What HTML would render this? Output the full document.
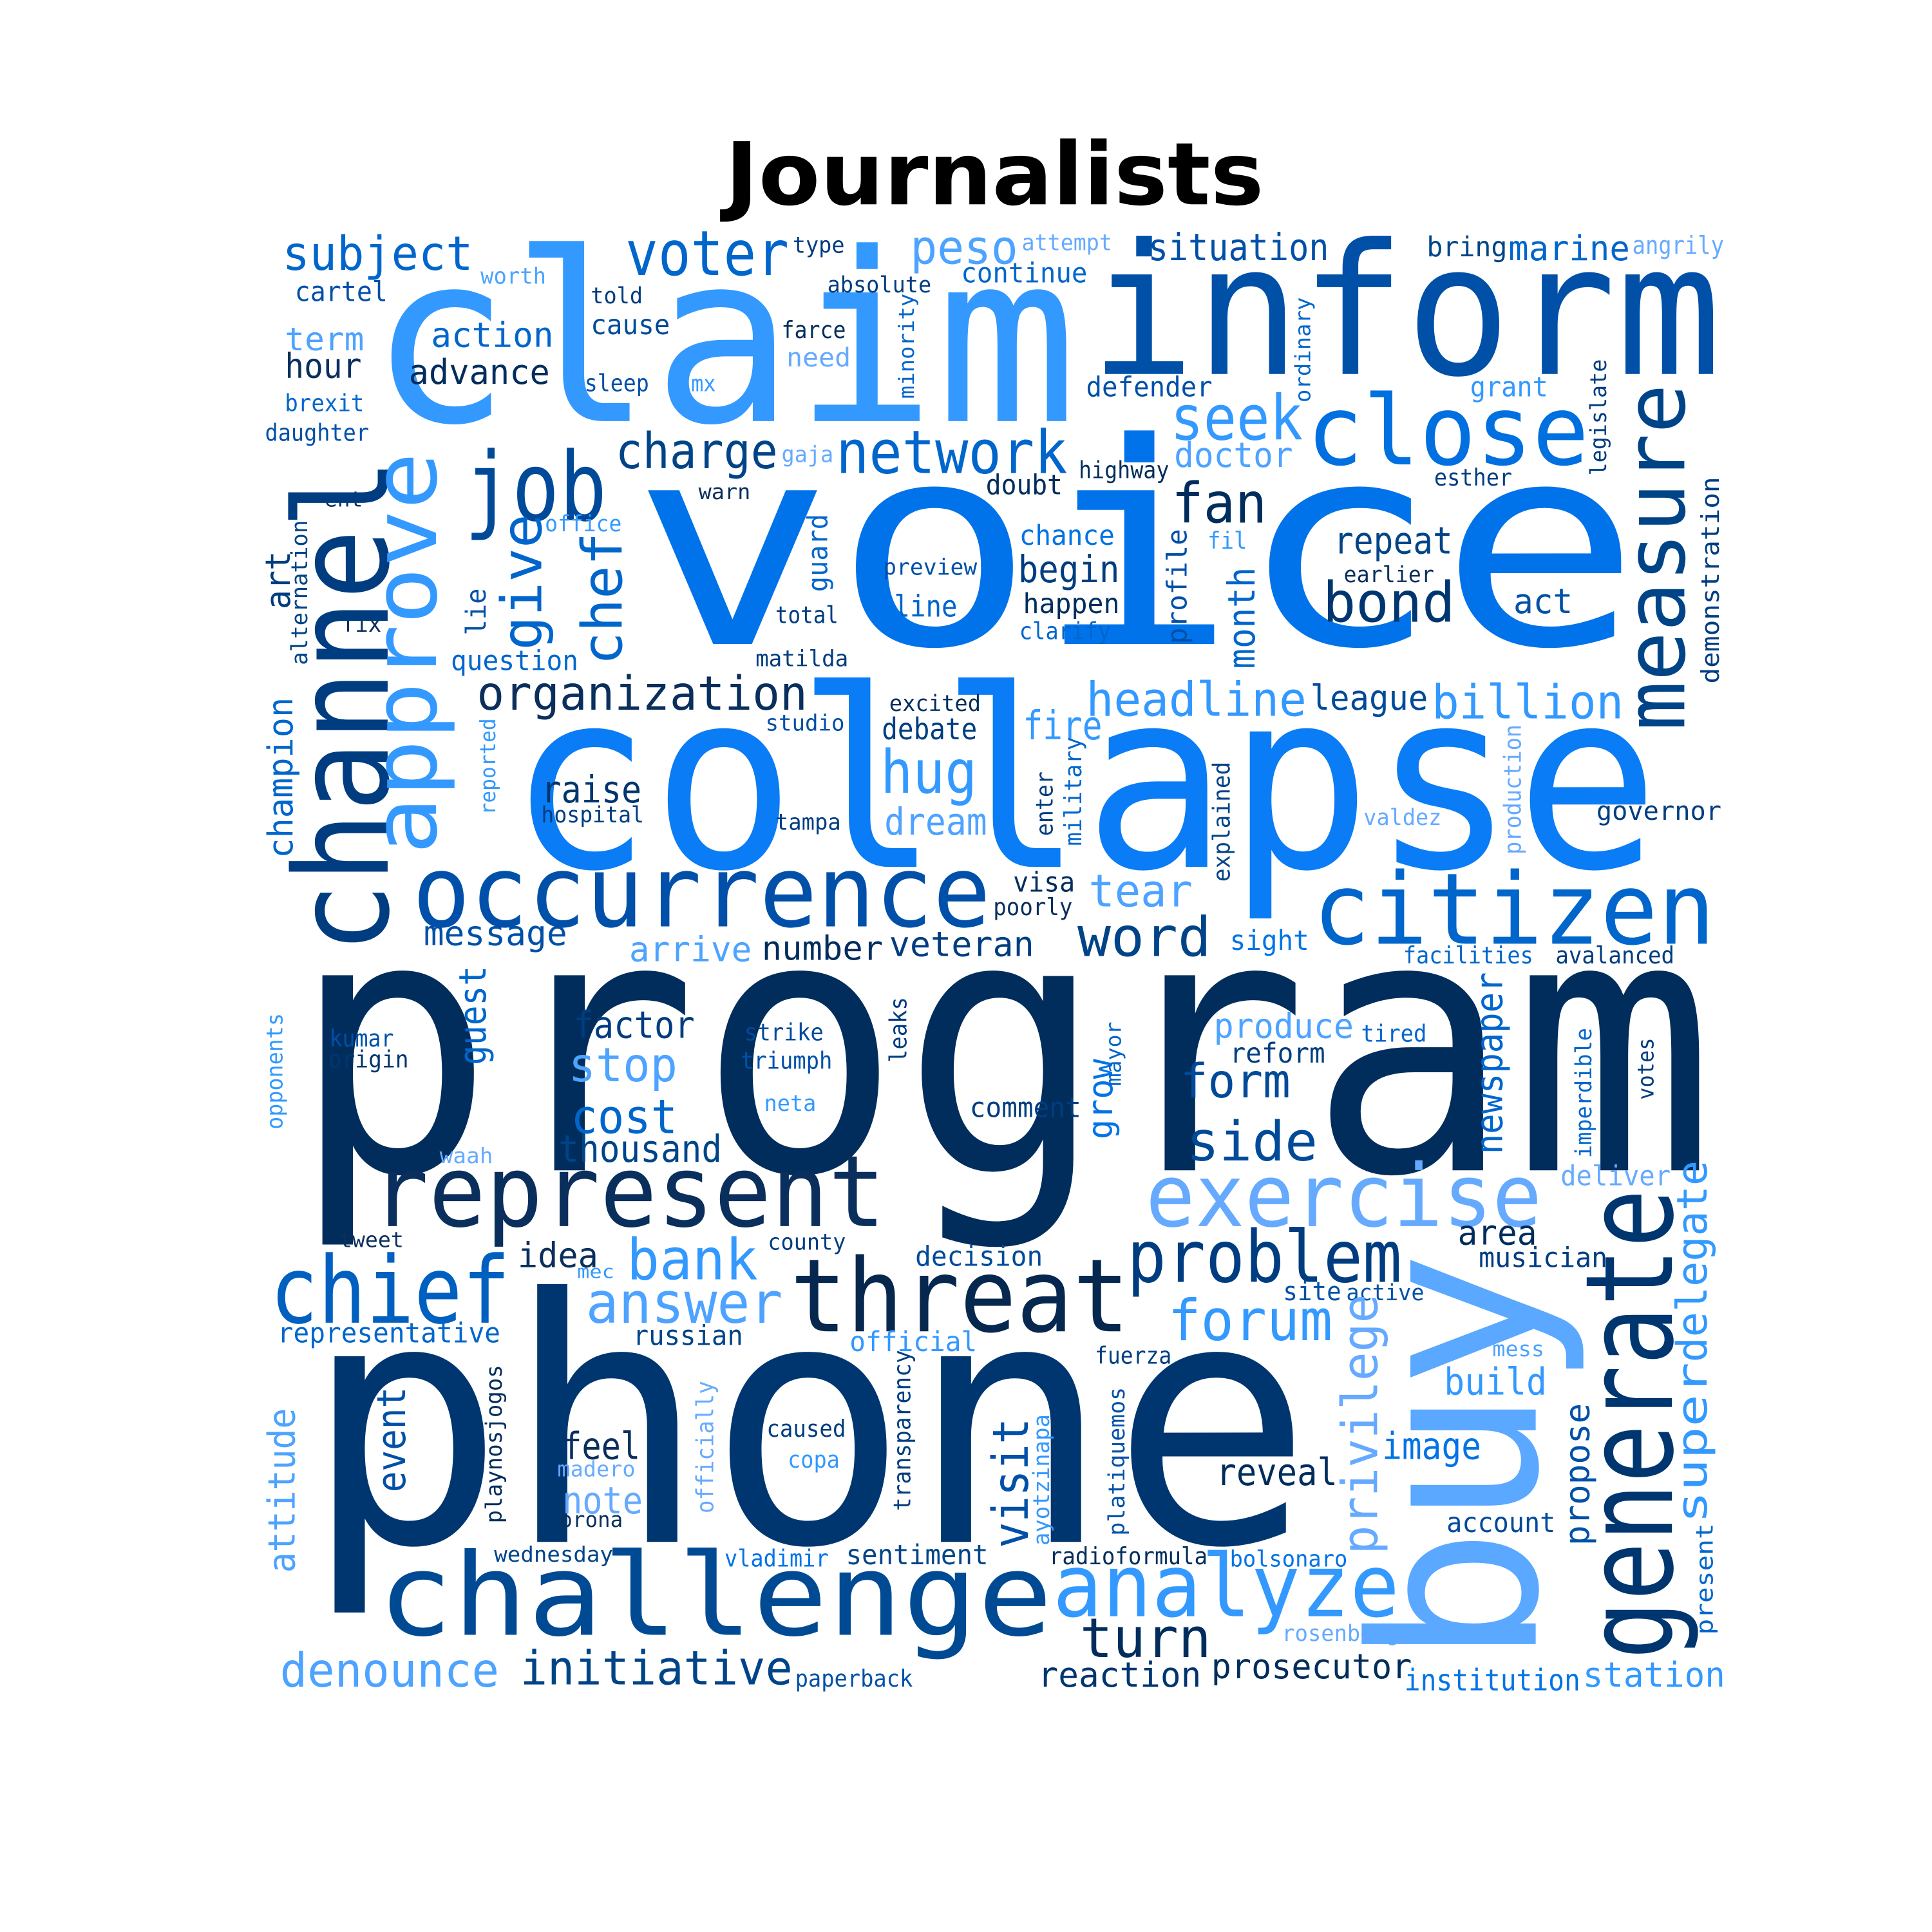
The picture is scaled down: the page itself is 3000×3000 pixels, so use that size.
<!DOCTYPE html>
<html><head><meta charset="utf-8">
<style>
html,body{margin:0;padding:0;background:#fff;}
svg{display:block;}
text{font-family:"DejaVu Sans Mono","Liberation Mono",monospace;}
</style></head>
<body>
<svg id="cloud" width="3000" height="3000" viewBox="0 0 1560 1560" xmlns="http://www.w3.org/2000/svg">
<rect width="1560" height="1560" fill="#fff"/>
<text x="803" y="165" text-anchor="middle" font-size="70" font-weight="bold" style="font-family:'DejaVu Sans','Liberation Sans',sans-serif" textLength="435" lengthAdjust="spacingAndGlyphs">Journalists</text>
<g id="words"></g>
</svg>
<script>
// word, x, y, size, width, color, rotated(0 = horizontal; 1 = vertical, where x is the baseline and y is the bottom)
const words = [
["claim",298,340,190,572,"#3399ff",0],
["inform",880,302,147,510,"#0050a8",0],
["voice",510,520,227,815,"#0073ea",0],
["collapse",410,700,200,930,"#0a7cf5",0],
["program",235,945,288,1150,"#002d5c",0],
["phone",245,1245,274,815,"#003670",0],
["challenge",305,1320,92,545,"#004a94",0],
["represent",300,990,80,415,"#0a2f5c",0],
["occurrence",333,748,80,467,"#0050aa",0],
["citizen",1060,762,80,325,"#0066cc",0],
["exercise",925,990,70,320,"#66aaff",0],
["threat",638,1075,82,274,"#06284f",0],
["problem",910,1035,58,222,"#003d80",0],
["analyze",850,1305,70,280,"#3399ff",0],
["chief",218,1068,75,194,"#0060c0",0],
["close",1055,375,78,228,"#0070e0",0],
["job",375,420,77,115,"#004a99",0],
["network",675,382,48,187,"#0066cc",0],
["charge",497,378,40,131,"#004488",0],
["seek",945,355,50,107,"#3399ff",0],
["voter",505,222,50,132,"#0066cc",0],
["peso",735,213,38,87,"#4da3ff",0],
["subject",228,218,38,154,"#0066cc",0],
["situation",927,210,30,146,"#0050a8",0],
["bring",1152,207,22,65,"#004488",0],
["marine",1218,210,28,98,"#0066cc",0],
["angrily",1318,205,20,74,"#66aaff",0],
["type",640,204,18,42,"#003d80",0],
["attempt",825,202,18,73,"#66aaff",0],
["absolute",668,236,18,84,"#003d80",0],
["continue",776,228,22,102,"#0066cc",0],
["worth",388,229,18,53,"#4da3ff",0],
["cartel",238,243,22,75,"#0050a8",0],
["told",477,245,18,42,"#003d80",0],
["term",230,283,26,64,"#4da3ff",0],
["action",348,280,28,99,"#0066cc",0],
["cause",477,270,22,64,"#004a99",0],
["farce",631,273,19,52,"#002d5c",0],
["need",635,296,21,52,"#66aaff",0],
["hour",230,305,28,62,"#0a2f5c",0],
["advance",330,310,28,114,"#002d5c",0],
["sleep",472,316,19,52,"#0050a8",0],
["mx",558,316,18,20,"#3399ff",0],
["brexit",230,332,19,64,"#0066cc",0],
["daughter",214,356,19,84,"#0050a8",0],
["defender",877,320,22,102,"#0050a8",0],
["grant",1187,320,22,63,"#3399ff",0],
["gaja",631,373,18,42,"#66aaff",0],
["doctor",948,377,28,96,"#4da3ff",0],
["highway",871,386,19,73,"#002d5c",0],
["doubt",796,399,22,62,"#002d5c",0],
["warn",564,403,17,42,"#0a2f5c",0],
["esther",1158,392,19,63,"#003d80",0],
["ent",262,409,17,31,"#0a2f5c",0],
["office",440,429,18,62,"#3399ff",0],
["fan",946,422,45,77,"#002d5c",0],
["chance",823,440,22,77,"#0073e6",0],
["repeat",1077,447,30,96,"#004488",0],
["earlier",1085,470,18,73,"#0a2f5c",0],
["bond",1068,502,45,107,"#003670",0],
["act",1222,495,28,48,"#0050a8",0],
["preview",713,464,18,76,"#0050a8",0],
["begin",822,470,30,82,"#003d80",0],
["line",722,498,24,51,"#0066cc",0],
["happen",826,495,22,78,"#002d5c",0],
["clarify",823,516,19,74,"#0066cc",0],
["total",626,503,19,51,"#003d80",0],
["fix",276,510,19,32,"#0a2f5c",0],
["fil",975,443,19,32,"#3399ff",0],
["question",364,541,22,103,"#0066cc",0],
["matilda",610,538,18,75,"#003d80",0],
["organization",385,573,38,267,"#0a2f5c",0],
["headline",877,578,38,178,"#3399ff",0],
["league",1058,573,28,95,"#004a99",0],
["billion",1156,580,38,155,"#3399ff",0],
["excited",718,574,18,74,"#002d5c",0],
["studio",618,590,18,64,"#0050a8",0],
["debate",712,597,24,77,"#003d80",0],
["fire",826,597,32,64,"#3399ff",0],
["hug",711,640,48,78,"#3399ff",0],
["raise",437,648,30,81,"#003670",0],
["hospital",437,664,18,83,"#003d80",0],
["tampa",626,670,18,53,"#003d80",0],
["dream",714,674,30,83,"#4da3ff",0],
["valdez",1101,666,18,63,"#66aaff",0],
["governor",1289,662,21,101,"#003d80",0],
["tear",879,732,36,84,"#4da3ff",0],
["visa",818,720,22,50,"#002d5c",0],
["poorly",802,739,19,64,"#0a2f5c",0],
["message",342,763,28,116,"#0050a8",0],
["arrive",508,776,28,99,"#4da3ff",0],
["number",615,775,27,98,"#002d5c",0],
["veteran",718,772,28,117,"#003d80",0],
["word",870,772,44,108,"#004488",0],
["sight",993,767,22,64,"#0073e6",0],
["facilities",1133,778,19,105,"#0066cc",0],
["avalanced",1256,778,19,96,"#003d80",0],
["factor",463,838,30,98,"#003d80",0],
["strike",601,840,19,64,"#004a99",0],
["triumph",598,863,19,74,"#0050a8",0],
["kumar",266,845,19,52,"#0050a8",0],
["origin",265,862,19,65,"#003670",0],
["produce",980,838,28,113,"#4da3ff",0],
["tired",1099,841,19,53,"#0066cc",0],
["reform",993,858,22,77,"#003d80",0],
["stop",459,873,38,88,"#4da3ff",0],
["form",953,886,38,89,"#004a99",0],
["neta",617,897,18,42,"#3399ff",0],
["comment",783,902,22,90,"#003d80",0],
["cost",461,915,38,86,"#0066cc",0],
["thousand",451,938,30,132,"#004488",0],
["side",958,937,44,106,"#004a99",0],
["waah",355,939,17,43,"#66aaff",0],
["win",789,968,21,39,"#ffffff",0],
["deliver",1260,957,22,89,"#66aaff",0],
["tweet",274,1007,17,52,"#0a2f5c",0],
["idea",418,1023,28,65,"#0a2f5c",0],
["bank",506,1033,46,106,"#3399ff",0],
["county",620,1009,18,63,"#003d80",0],
["decision",739,1022,22,103,"#004a99",0],
["area",1177,1005,28,64,"#002d5c",0],
["musician",1194,1023,22,104,"#003d80",0],
["mec",466,1032,15,30,"#3399ff",0],
["answer",473,1068,46,159,"#4da3ff",0],
["site",1036,1050,21,47,"#0050a8",0],
["active",1087,1050,18,63,"#0050a8",0],
["forum",943,1082,46,133,"#3399ff",0],
["representative",224,1084,22,180,"#0066cc",0],
["russian",511,1086,22,89,"#004488",0],
["official",686,1091,22,103,"#3399ff",0],
["fuerza",884,1101,19,62,"#003d80",0],
["mess",1205,1095,17,42,"#4da3ff",0],
["build",1166,1126,30,83,"#3399ff",0],
["caused",619,1160,19,64,"#003d80",0],
["feel",454,1178,30,63,"#0a2f5c",0],
["copa",636,1185,19,42,"#3399ff",0],
["image",1116,1178,30,80,"#0073e6",0],
["madero",450,1192,17,63,"#66aaff",0],
["reveal",982,1199,30,98,"#002d5c",0],
["note",454,1222,30,65,"#66aaff",0],
["orona",452,1233,17,51,"#0a2f5c",0],
["account",1168,1237,22,88,"#004a99",0],
["wednesday",399,1261,17,96,"#004488",0],
["vladimir",585,1265,19,84,"#0073e6",0],
["sentiment",683,1263,22,115,"#004488",0],
["radioformula",847,1263,19,128,"#002d5c",0],
["bolsonaro",993,1265,18,95,"#0073e6",0],
["rosenberg",1035,1325,18,95,"#66aaff",0],
["turn",872,1338,44,106,"#002d5c",0],
["denounce",226,1362,38,177,"#4da3ff",0],
["initiative",420,1360,38,220,"#004488",0],
["paperback",642,1362,19,95,"#0050a8",0],
["reaction",838,1362,28,132,"#003670",0],
["prosecutor",978,1355,28,162,"#002d5c",0],
["institution",1134,1365,24,142,"#0073e6",0],
["station",1278,1362,28,115,"#3399ff",0],
// vertical words: x = baseline, y = bottom start
["buy",1240,1345,185,335,"#5aa8ff",1],
["channel",313,770,105,400,"#003d80",1],
["approve",352,690,72,325,"#3399ff",1],
["give",437,525,45,110,"#0066cc",1],
["chef",502,537,45,107,"#0066cc",1],
["art",234,492,28,47,"#003d80",1],
["alternation",248,537,18,117,"#004488",1],
["lie",392,513,22,38,"#0050a8",1],
["champion",236,693,28,130,"#0066cc",1],
["reported",400,658,17,78,"#3399ff",1],
["guard",668,478,22,63,"#0066cc",1],
["minority",738,322,17,85,"#0066cc",1],
["ordinary",1058,325,17,85,"#0066cc",1],
["legislate",1297,384,18,94,"#003d80",1],
["measure",1360,590,67,280,"#004488",1],
["demonstration",1388,552,20,167,"#003d80",1],
["profile",958,520,22,93,"#0050a8",1],
["month",1013,540,30,82,"#0066cc",1],
["military",873,683,19,88,"#0066cc",1],
["enter",850,675,19,52,"#003d80",1],
["explained",993,712,19,97,"#004488",1],
["production",1228,690,19,105,"#66aaff",1],
["guest",392,860,30,80,"#0066cc",1],
["opponents",228,912,18,94,"#3399ff",1],
["leaks",732,858,19,53,"#003d80",1],
["grow",898,920,28,65,"#0073e6",1],
["mayor",905,877,17,52,"#0066cc",1],
["newspaper",1213,932,30,147,"#0066cc",1],
["imperdible",1285,935,18,105,"#0066cc",1],
["votes",1335,888,18,50,"#003d80",1],
["generate",1350,1340,98,380,"#003670",1],
["delegate",1378,1100,34,163,"#3399ff",1],
["super",1378,1230,34,130,"#3399ff",1],
["present",1383,1320,19,90,"#0066cc",1],
["propose",1283,1248,28,115,"#0050a8",1],
["privilege",1112,1255,40,210,"#66aaff",1],
["visit",830,1250,40,105,"#0050a8",1],
["ayotzinapa",847,1248,18,106,"#3399ff",1],
["platiquemos",908,1240,18,120,"#0050a8",1],
["transparency",735,1220,19,130,"#003d80",1],
["officially",576,1222,19,107,"#66aaff",1],
["playnosjogos",405,1230,18,128,"#002d5c",1],
["event",327,1205,32,85,"#0050a8",1],
["attitude",238,1270,30,133,"#4da3ff",1]
];
const NS = "http://www.w3.org/2000/svg";
const g = document.getElementById("words");
for (const w of words) {
  const t = document.createElementNS(NS, "text");
  t.textContent = w[0];
  t.setAttribute("font-size", w[3]);
  t.setAttribute("fill", w[5]);
  t.setAttribute("textLength", w[4]);
  t.setAttribute("lengthAdjust", "spacingAndGlyphs");
  if (w[6]) {
    t.setAttribute("x", 0);
    t.setAttribute("y", 0);
    t.setAttribute("transform", "translate(" + w[1] + "," + w[2] + ") rotate(-90)");
  } else {
    t.setAttribute("x", w[1]);
    t.setAttribute("y", w[2]);
  }
  
  
  g.appendChild(t);
}
</script>
</body></html>
